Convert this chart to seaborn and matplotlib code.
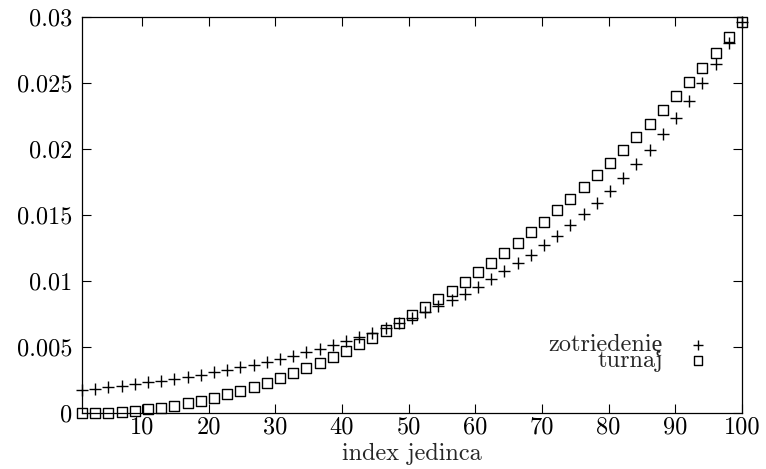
import matplotlib
matplotlib.use("Agg")
import matplotlib.pyplot as plt
import seaborn as sns
import pandas as pd

# x positions (index jedinca)
index_jedinca = [1, 2.98, 4.96, 6.94, 8.92, 10.9, 12.88, 14.86, 16.84, 18.82,
                 20.8, 22.78, 24.76, 26.74, 28.72, 30.7, 32.68, 34.66, 36.64, 38.62,
                 40.6, 42.58, 44.56, 46.54, 48.52, 50.5, 52.48, 54.46, 56.44, 58.42,
                 60.4, 62.38, 64.36, 66.34, 68.32, 70.3, 72.28, 74.26, 76.24, 78.22,
                 80.2, 82.18, 84.16, 86.14, 88.12, 90.1, 92.08, 94.06, 96.04, 98.02, 100]

zotriedenie = [0.001766, 0.001868, 0.001977, 0.002091, 0.002213, 0.002341, 0.002477,
               0.002620, 0.002772, 0.002933, 0.003103, 0.003283, 0.003474, 0.003675,
               0.003888, 0.004114, 0.004352, 0.004605, 0.004872, 0.005155, 0.005454,
               0.005770, 0.006104, 0.006459, 0.006833, 0.007230, 0.007649, 0.008093,
               0.008562, 0.009058, 0.009584, 0.010140, 0.010728, 0.011350, 0.012008,
               0.012705, 0.013442, 0.014221, 0.015046, 0.015919, 0.016842, 0.017819,
               0.018852, 0.019946, 0.021103, 0.022327, 0.023622, 0.024992, 0.026441,
               0.027975, 0.029598]

turnaj = [0.0, 0.0000118, 0.0000474, 0.0001066, 0.0001894, 0.000296, 0.0004262,
          0.0005802, 0.0007578, 0.000959, 0.001184, 0.0014326, 0.001705, 0.002001,
          0.0023206, 0.002664, 0.003031, 0.003422, 0.003836, 0.004274, 0.004736,
          0.005221, 0.005731, 0.006263, 0.00682, 0.0074, 0.008004, 0.008631,
          0.009283, 0.009957, 0.010656, 0.011378, 0.012124, 0.012894, 0.013687,
          0.014504, 0.015345, 0.016209, 0.017097, 0.018009, 0.018944, 0.019903,
          0.020886, 0.021892, 0.022922, 0.023976, 0.025053, 0.026155, 0.02728,
          0.028428, 0.0296]

x_ticks = [10, 20, 30, 40, 50, 60, 70, 80, 90, 100]
y_ticks = [0, 0.005, 0.01, 0.015, 0.02, 0.025, 0.03]
y_tick_labels = ["0", "0.005", "0.01", "0.015", "0.02", "0.025", "0.03"]
x_label = "index jedinca"
label_a = "zotriedenię"
label_b = "turnaj"

sns.set_style("ticks")
plt.rcParams["font.family"] = ["cmr10", "Liberation Serif"]
plt.rcParams["axes.formatter.use_mathtext"] = True
FS = 17.5

df = pd.DataFrame({"x": index_jedinca, "a": zotriedenie, "b": turnaj})

fig = plt.figure(figsize=(7.66, 4.69), dpi=100)
ax = fig.add_axes([82 / 766, 1 - 413.3 / 469, 660 / 766, 396.6 / 469])

sns.scatterplot(data=df, x="x", y="a", marker="+", s=64, color="black",
                linewidth=1.0, ax=ax, label=label_a, clip_on=False, zorder=3)
sns.scatterplot(data=df, x="x", y="b", marker="s", s=52, facecolor="none",
                edgecolor="black", linewidth=1.0, ax=ax, label=label_b,
                clip_on=False, zorder=3)

ax.set_xlim(1, 100)
ax.set_ylim(0, 0.03)
ax.set_xticks(x_ticks)
ax.set_xticklabels([str(t) for t in x_ticks])
ax.set_yticks(y_ticks)
ax.set_yticklabels(y_tick_labels)
ax.set_xlabel(x_label, fontsize=FS, labelpad=3)
ax.set_ylabel("")
ax.tick_params(axis="both", which="major", direction="in", length=6.5,
               width=0.8, colors="black", labelsize=FS, top=True, right=True)
ax.tick_params(axis="x", pad=2.5)
ax.tick_params(axis="y", pad=7)
for sp in ax.spines.values():
    sp.set_visible(True)
    sp.set_color("black")
    sp.set_linewidth(0.9)

leg = ax.legend(loc="center right", bbox_to_anchor=(0.985, 0.152),
                markerfirst=False, frameon=False, fontsize=FS,
                handletextpad=0.45, labelspacing=-0.28, markerscale=0.85,
                borderaxespad=0, handlelength=2)
for t in leg.get_texts():
    t.set_ha("right")
leg._legend_box.align = "right"

fig.savefig("out.png", dpi=100)
